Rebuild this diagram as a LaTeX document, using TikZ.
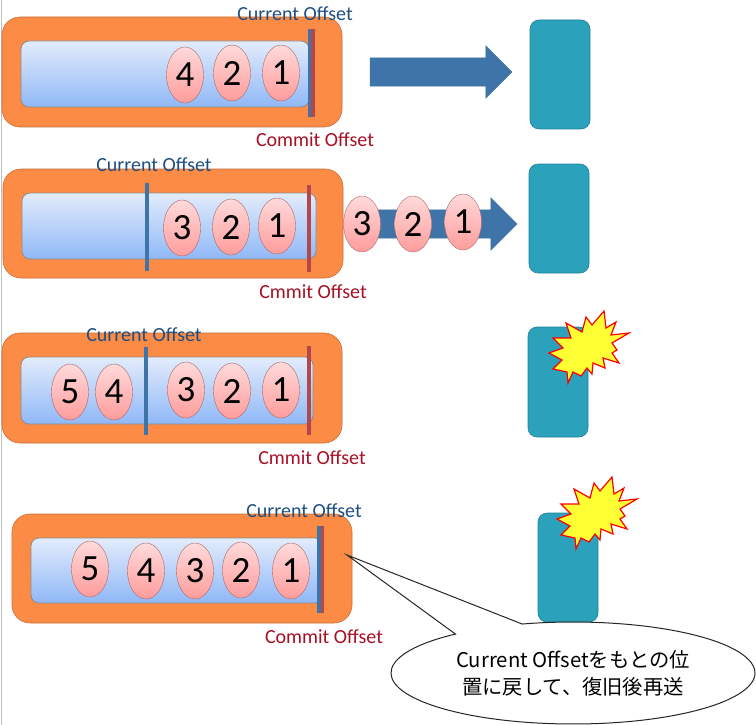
\documentclass[tikz,border=0pt]{standalone}
\usepackage{fontspec}
\setmainfont{Carlito}
\newfontfamily\cjk{Noto Sans CJK JP}
\usepackage{xcolor}
\usetikzlibrary{shapes.geometric,shapes.arrows,shapes.callouts}
\definecolor{orangebox}{HTML}{FB8B45}
\definecolor{tealbox}{HTML}{2CA1BC}
\definecolor{currentblue}{HTML}{3E74A8}
\definecolor{commitred}{HTML}{B2474C}
\definecolor{currenttext}{HTML}{1F4E82}
\definecolor{committext}{HTML}{A80F25}
\definecolor{queuetop}{HTML}{E3ECFC}
\definecolor{queuebottom}{HTML}{8FB8F7}
\definecolor{msgtop}{HTML}{FFDADA}
\definecolor{msgbottom}{HTML}{FF9C9C}
\definecolor{burstfill}{HTML}{FFFF33}
\tikzset{
  partition/.style={draw=orangebox!80!black,fill=orangebox,rounded corners=18pt,line width=0.6pt},
  queue/.style={draw=black!45,top color=queuetop,bottom color=queuebottom,rounded corners=8pt,line width=0.8pt},
  server/.style={draw=tealbox!80!black,fill=tealbox,rounded corners=9pt,line width=0.6pt},
  msg/.style={ellipse,draw=red!45!black!60,top color=msgtop,bottom color=msgbottom,minimum width=37pt,minimum height=56pt,inner sep=0pt,font=\fontsize{37}{37}\selectfont},
  flow/.style={single arrow,fill=currentblue,draw=currentblue,single arrow head extend=12pt,inner xsep=0pt,inner ysep=14pt},
  burst/.style={draw=red,fill=burstfill,line width=1.2pt,line join=miter},
  currentline/.style={currentblue,line width=3.5pt},
  commitline/.style={commitred,line width=3.5pt},
  currentlabel/.style={text=currenttext,font=\fontsize{20}{20}\selectfont},
  commitlabel/.style={text=committext,font=\fontsize{20}{20}\selectfont}
}
\newcommand{\crash}[2]{\draw[burst,shift={(#1,#2)}] (14,-36)--(16,-19)--(26,-25)--(21,-12)--(39,-14)--(22,-4)--(27,3)--(22,6)--(29,16)--(13,11)--(15,21)--(3,16)--(2,27)--(-3,21)--(-9,29)--(-17,25)--(-22,36)--(-23,25)--(-37,22)--(-28,13)--(-41,6)--(-27,1)--(-37,-9)--(-19,-9)--(-24,-24)--(-8,-15)--(-4,-30)--(2,-22)--cycle;}
\begin{document}
\begin{tikzpicture}[x=1pt,y=-1pt]
    \useasboundingbox (0,0) rectangle (756,725);
    \draw[black!25,line width=0.8pt] (1,0)--(1,725);
    % first row
    \draw[partition] (2,17) rectangle (342,127);
    \draw[queue] (21,41) rectangle (309,107);
    \foreach \n/\x/\y in {4/185/75,2/232/73,1/281/73} {\node[msg] (a\n) at (\x,\y) {\n};}
    \draw[commitline] (313,29)--(313,117);
    \draw[currentline] (309.5,29)--(309.5,117);
    \node[currentlabel] (currenta) at (295,14) {Current Offset};
    \node[commitlabel] (commita) at (315,140) {Commit Offset};
    \node[flow,minimum height=142pt] (flowa) at (434,72) {};
    \draw[server] (530,20) rectangle (590,129);
    % second row
    \draw[partition] (3,169) rectangle (343,278);
    \draw[queue] (22,193) rectangle (316,259);
    \foreach \n/\x/\y in {3/182/228,2/231/227,1/277/226} {\node[msg] (b\n) at (\x,\y) {\n};}
    \draw[currentline] (147,183)--(147,271);
    \draw[commitline] (309,185)--(309,272);
    \node[currentlabel] (currentb) at (154,165) {Current Offset};
    \node[commitlabel] (commitb) at (313,292) {Cmmit Offset};
    \node[flow,minimum height=171pt] (flowb) at (424.5,224) {};
    \foreach \n/\x/\y in {3/362/224,2/413/224,1/463/222} {\node[msg] (c\n) at (\x,\y) {\n};}
    \draw[server] (529,164) rectangle (589,273);
    % third row
    \draw[partition] (2,333) rectangle (342,443);
    \draw[queue] (21,357) rectangle (313,424);
    \foreach \n/\x/\y in {5/70/392,4/114/392,3/186/390,2/232/391,1/281/390} {\node[msg] (d\n) at (\x,\y) {\n};}
    \draw[currentline] (146,347)--(146,435);
    \draw[commitline] (309,346)--(309,435);
    \node[currentlabel] (currentc) at (144,335) {Current Offset};
    \node[commitlabel] (commitc) at (312,458) {Cmmit Offset};
    \draw[server] (528,327) rectangle (588,437);
    \crash{590}{347}
    % fourth row
    \draw[partition] (12,514) rectangle (352,623);
    \draw[queue] (31,538) rectangle (323,603);
    \foreach \n/\x/\y in {5/90/569,4/146/571,3/195/571,2/241/570,1/291/571} {\node[msg] (e\n) at (\x,\y) {\n};}
    \draw[commitline] (322,526)--(322,613);
    \draw[currentline] (319,526)--(319,613);
    \node[currentlabel] (currentd) at (304,511) {Current Offset};
    \node[commitlabel] (commitd) at (324,637) {Commit Offset};
    \draw[server] (538,513) rectangle (598,622);
    \crash{598}{513}
    % speech balloon
    \node[ellipse callout,draw=black!85,fill=white,line width=1pt,minimum width=364pt,minimum height=102pt,inner sep=0pt,
      callout absolute pointer={(347,555)},callout pointer arc=24,align=center,
      font=\cjk\fontsize{20.3}{27}\selectfont] (balloon) at (573,673) {Current Offsetをもとの位\\置に戻して、復旧後再送};
\end{tikzpicture}
\end{document}
